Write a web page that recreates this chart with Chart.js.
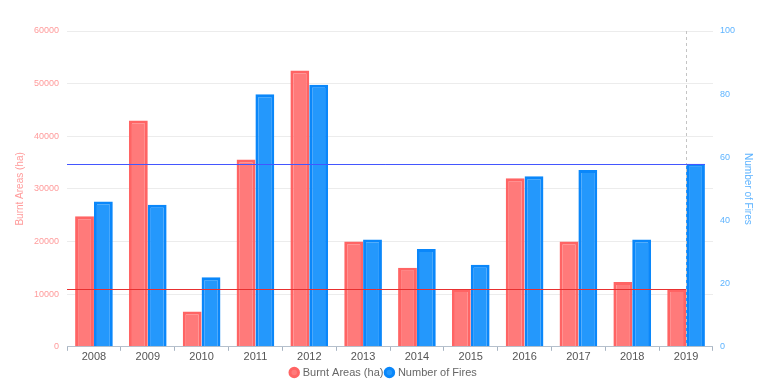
<!DOCTYPE html>
<html lang="en">
<head>
  <meta charset="UTF-8">
  <title>Burnt Areas and Number of Fires</title>
  <script src="https://cdn.jsdelivr.net/npm/chart.js"></script>
  <style>
    body {
      margin: 0;
      padding: 0;
      background-color: #fff;
    }
    .container {
      width: 768px;
      height: 388px;
    }
  </style>
</head>
<body>
  <div class="container">
    <canvas id="fireChart"></canvas>
  </div>
  <script>
    const years = ['2008', '2009', '2010', '2011', '2012', '2013', '2014', '2015', '2016', '2017', '2018', '2019'];
    const burntAreas = [24800, 43000, 6700, 35600, 52500, 20000, 15000, 11000, 32000, 20000, 12300, 11000];
    const numberOfFires = [46, 45, 22, 80, 83, 34, 31, 26, 54, 56, 34, 58];

    // hover-style crosshair on the last year
    const crosshair = {
      id: 'crosshair',
      afterDatasetsDraw(chart) {
        const ctx = chart.ctx;
        const area = chart.chartArea;
        const idx = years.length - 1;
        const redBar = chart.getDatasetMeta(0).data[idx];
        const blueBar = chart.getDatasetMeta(1).data[idx];
        const xCenter = chart.scales.x.getPixelForValue(idx);
        ctx.save();
        ctx.lineWidth = 1;
        ctx.strokeStyle = '#c4c4c4';
        ctx.setLineDash([3, 3]);
        ctx.beginPath();
        ctx.moveTo(Math.round(xCenter) + 0.5, area.top);
        ctx.lineTo(Math.round(xCenter) + 0.5, area.bottom);
        ctx.stroke();
        ctx.setLineDash([]);
        ctx.strokeStyle = '#e83030';
        ctx.beginPath();
        ctx.moveTo(area.left, Math.round(redBar.y) + 0.5);
        ctx.lineTo(redBar.x + redBar.width / 2, Math.round(redBar.y) + 0.5);
        ctx.stroke();
        ctx.strokeStyle = '#4356ff';
        ctx.beginPath();
        ctx.moveTo(area.left, Math.round(blueBar.y) + 0.5);
        ctx.lineTo(blueBar.x + blueBar.width / 2, Math.round(blueBar.y) + 0.5);
        ctx.stroke();
        ctx.restore();
      }
    };

    Chart.defaults.font.family = "'Liberation Sans', Arial, sans-serif";
    Chart.defaults.font.size = 11;

    const ctx = document.getElementById('fireChart').getContext('2d');
    new Chart(ctx, {
      type: 'bar',
      data: {
        labels: years,
        datasets: [{
          label: 'Burnt Areas (ha)',
          data: burntAreas,
          yAxisID: 'y',
          backgroundColor: 'rgba(255, 122, 122, 1)',
          borderColor: 'rgba(255, 100, 100, 1)',
          borderWidth: 3
        }, {
          label: 'Number of Fires',
          data: numberOfFires,
          yAxisID: 'y1',
          backgroundColor: 'rgba(36, 152, 252, 1)',
          borderColor: 'rgba(10, 135, 250, 1)',
          borderWidth: 3
        }]
      },
      options: {
        responsive: true,
        maintainAspectRatio: false,
        animation: false,
        datasets: {
          bar: {
            barPercentage: 1,
            categoryPercentage: 0.7
          }
        },
        layout: {
          padding: { top: 31, left: 10, right: 10, bottom: 0 }
        },
        scales: {
          x: {
            grid: {
              display: true,
              drawOnChartArea: false,
              drawTicks: true,
              tickLength: 4,
              color: '#a8b4c2'
            },
            border: { color: '#b5c0cc', width: 1 },
            ticks: { color: '#555', font: { size: 11 }, padding: 0 }
          },
          y: {
            position: 'left',
            min: 0,
            max: 60000,
            ticks: {
              stepSize: 10000,
              color: '#ff9b9b',
              padding: 8,
              font: { size: 9 },
              callback: function(value) {
                return String(value);
              }
            },
            grid: { color: '#ececec', drawTicks: false },
            border: { display: false },
            title: {
              display: true,
              text: 'Burnt Areas (ha)',
              color: '#ff9b9b',
              font: { size: 10 },
              padding: { top: 4, bottom: 0 }
            }
          },
          y1: {
            position: 'right',
            min: 0,
            max: 100,
            ticks: { stepSize: 20, color: '#5fb4ff', padding: 7, font: { size: 9 } },
            grid: { drawOnChartArea: false, drawTicks: false },
            border: { display: false },
            title: {
              display: true,
              text: 'Number of Fires',
              color: '#5fb4ff',
              font: { size: 10 },
              padding: { top: 4, bottom: 0 }
            }
          }
        },
        plugins: {
          legend: {
            position: 'bottom',
            labels: {
              usePointStyle: true,
              pointStyle: 'circle',
              boxWidth: 6,
              boxHeight: 6,
              padding: 3,
              color: '#666',
              font: { size: 11 }
            }
          },
          tooltip: { enabled: false }
        }
      },
      plugins: [crosshair]
    });
  </script>
</body>
</html>
